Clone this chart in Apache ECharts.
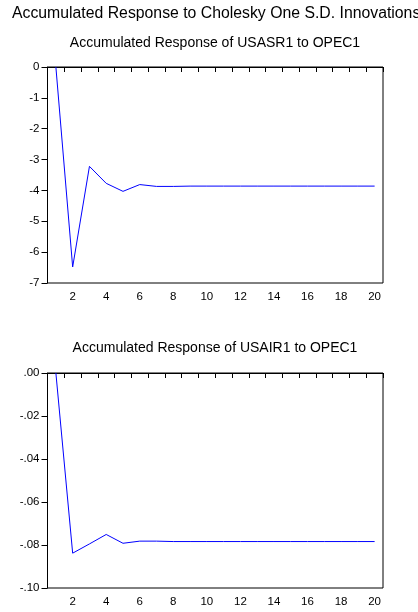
<!DOCTYPE html>
<html>
<head>
<meta charset="utf-8">
<script src="https://cdn.jsdelivr.net/npm/echarts@6/dist/echarts.min.js"></script>
<style>
  html, body { margin: 0; padding: 0; background: #fff; }
  #chart { width: 418px; height: 612px; }
</style>
</head>
<body>
<div id="chart"></div>
<script>
// periods 1..20
const periods = ['1', '2', '3', '4', '5', '6', '7', '8', '9', '10',
  '11', '12', '13', '14', '15', '16', '17', '18', '19', '20'];

// Accumulated Response of USASR1 to OPEC1
const usasr1 = [0, -6.48, -3.22, -3.77, -4.03, -3.81, -3.87, -3.87, -3.86, -3.86,
  -3.86, -3.86, -3.86, -3.86, -3.86, -3.86, -3.86, -3.86, -3.86, -3.86];

// Accumulated Response of USAIR1 to OPEC1
const usair1 = [0, -0.0838, -0.0795, -0.0751, -0.0792, -0.0782, -0.0782, -0.0784, -0.0784, -0.0784,
  -0.0784, -0.0784, -0.0784, -0.0784, -0.0784, -0.0784, -0.0784, -0.0784, -0.0784, -0.0784];

const mainTitle = 'Accumulated Response to Cholesky One S.D. Innovations';
const subTitles = ['Accumulated Response of USASR1 to OPEC1', 'Accumulated Response of USAIR1 to OPEC1'];

const font = '"Liberation Sans", Arial, sans-serif';
const myechart = echarts.init(document.getElementById('chart'));

function xAxisOf(idx) {
  return {
    type: 'category',
    gridIndex: idx,
    data: periods,
    boundaryGap: true,
    axisLine: { lineStyle: { color: '#000', width: 1 } },
    axisTick: { show: true, interval: 0, length: 5, inside: false, lineStyle: { color: '#000' } },
    axisLabel: {
      interval: (i) => i % 2 === 1,
      color: '#000',
      fontFamily: font,
      fontSize: 11.5,
      margin: 8,
    },
    splitLine: { show: false },
  };
}

function yAxisOf(idx, min, max, step, fmt) {
  return {
    type: 'value',
    gridIndex: idx,
    min: min,
    max: max,
    interval: step,
    axisLine: { show: true, lineStyle: { color: '#000', width: 1 } },
    axisTick: { show: true, length: 6, lineStyle: { color: '#000' } },
    axisLabel: { color: '#000', fontFamily: font, fontSize: 11.5, margin: 8, formatter: fmt },
    splitLine: { show: false },
  };
}

const option = {
  animation: false,
  backgroundColor: '#fff',
  title: [
    { text: mainTitle, left: 12, top: 5.5, padding: 0, textStyle: { fontFamily: font, fontSize: 15.8, fontWeight: 'normal', color: '#000' } },
    { text: subTitles[0], left: 215, top: 36.5, padding: 0, textAlign: 'center', textStyle: { fontFamily: font, fontSize: 14, fontWeight: 'normal', color: '#000' } },
    { text: subTitles[1], left: 215, top: 341.5, padding: 0, textAlign: 'center', textStyle: { fontFamily: font, fontSize: 14, fontWeight: 'normal', color: '#000' } },
  ],
  grid: [
    { left: 47.5, right: 35, top: 67, height: 216, show: true, borderColor: '#000', borderWidth: 1, outerBoundsMode: 'none' },
    { left: 47.5, right: 35, top: 373, height: 215, show: true, borderColor: '#000', borderWidth: 1, outerBoundsMode: 'none' },
  ],
  xAxis: [xAxisOf(0), xAxisOf(1)],
  yAxis: [
    yAxisOf(0, -7, 0, 1, (v) => String(v)),
    yAxisOf(1, -0.1, 0, 0.02, (v) => v.toFixed(2).replace('0.', '.')),
  ],
  series: [
    {
      name: 'USASR1', type: 'line', xAxisIndex: 0, yAxisIndex: 0, data: usasr1,
      symbol: 'none', lineStyle: { color: '#0000ff', width: 1 },
    },
    {
      name: 'USAIR1', type: 'line', xAxisIndex: 1, yAxisIndex: 1, data: usair1,
      symbol: 'none', lineStyle: { color: '#0000ff', width: 1 },
    },
  ],
};

myechart.setOption(option);
</script>
</body>
</html>
